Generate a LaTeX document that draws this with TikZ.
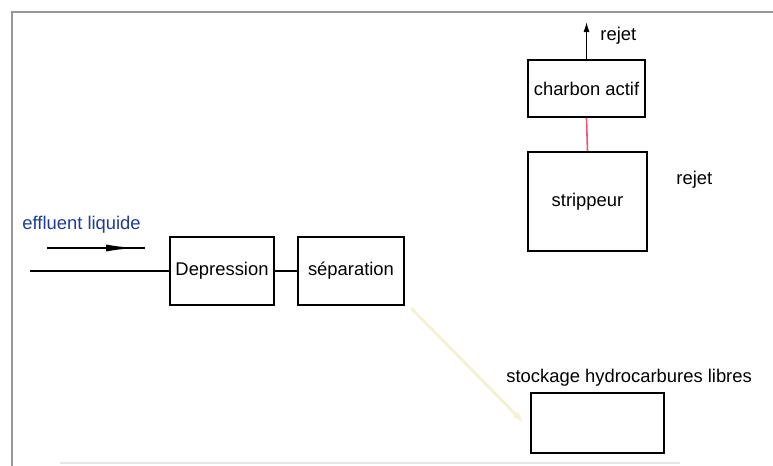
\documentclass[tikz,border=0pt]{standalone}
\usepackage{fontspec}
\setmainfont{Liberation Sans}
\usetikzlibrary{arrows.meta}
\definecolor{flowblue}{RGB}{30,60,150}
\definecolor{pinkline}{RGB}{240,85,115}
\definecolor{paleyellow}{RGB}{243,242,212}
\definecolor{framegray}{RGB}{150,150,150}
\tikzset{
  unit/.style={draw, line width=0.9pt, fill=white, inner sep=0pt, font=\fontsize{9.2}{11}\selectfont},
  lbl/.style={inner sep=0pt, font=\fontsize{9.2}{11}\selectfont},
  pipe/.style={line width=0.6pt}
}
\begin{document}
\begin{tikzpicture}[x=0.5pt,y=-0.5pt]
\useasboundingbox (0,0) rectangle (773,466);
% frame
\draw[framegray, line width=1pt] (12,466) -- (12,12) -- (773,12);
\draw[black!10, line width=0.8pt] (60,463) -- (680,463);

% units
\node[unit, minimum width=52pt, minimum height=34pt] (dep) at (222,271) {Depression};
\node[unit, minimum width=53pt, minimum height=34pt] (sep) at (351,271) {s\'eparation};
\node[unit, minimum width=58.5pt, minimum height=28.5pt] (charbon) at (586.5,88.5) {charbon actif};
\node[unit, minimum width=59.5pt, minimum height=49.5pt] (strip) at (587.5,201.5) {strippeur};
\node[unit, minimum width=66.5pt, minimum height=30pt] (stock) at (597.5,423) {};

% labels
\node[lbl, anchor=west, text=flowblue] (effl) at (22,225) {effluent liquide};
\node[lbl, anchor=west] (rejet1) at (600,36) {rejet};
\node[lbl, anchor=west] (rejet2) at (676,180) {rejet};
\node[lbl, anchor=west] (stocklbl) at (506,378) {stockage hydrocarbures libres};

% feed
\coordinate (in) at (30,271);
\draw[pipe] (in) -- (dep.west);
\draw[pipe] (dep.east) -- (sep.west);
\coordinate (fa) at (47,248);
\coordinate (fm) at (134,248);
\coordinate (fb) at (145,248);
\draw[pipe] (fa) -- (fb);
\draw[pipe, -{Latex[length=14pt,width=3.5pt]}] (fa) -- (fm);

% gas treatment
\coordinate (out) at (586.5,22);
\draw[pipe, -{Latex[length=5pt,width=3pt]}] (charbon.north) -- (out);
\draw[pinkline, line width=0.8pt] (strip.north) -- (charbon.south);

% oil to storage
\draw[paleyellow, line width=1.5pt, -{Latex[length=6pt,width=4pt]}] (sep.south east) ++(6,2) -- ([xshift=-3pt]stock.west);
\end{tikzpicture}
\end{document}
